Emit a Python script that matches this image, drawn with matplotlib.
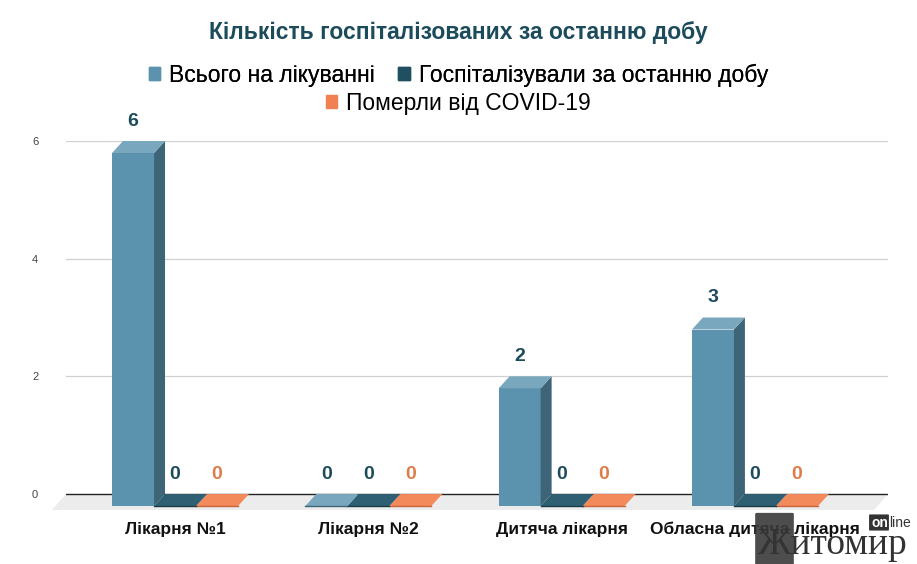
import numpy as np
import matplotlib.pyplot as plt
from matplotlib.patches import Patch, Polygon, FancyBboxPatch

plt.rcParams['font.family'] = ['Liberation Sans', 'DejaVu Sans']

categories = ['Лікарня №1', 'Лікарня №2', 'Дитяча лікарня', 'Обласна дитяча лікарня']
series_names = ['Всього на лікуванні', 'Госпіталізували за останню добу', 'Померли від COVID-19']
total = [6, 0, 2, 3]
hospitalized = [0, 0, 0, 0]
died = [0, 0, 0, 0]
y_ticks = [0, 2, 4, 6]

front_colors = ['#5b93ae', '#1f4f61', '#ef8152']
top_colors = ['#79a7bd', '#2f5f72', '#f38a5c']
side_colors = ['#3d6577', '#163a48', '#c8653c']
label_colors = ['#1c4b5c', '#1c4b5c', '#e07a48']

W = 42 / 193.3      # bar width (category units)
DX = 11 / 193.3     # depth offset in x
DY = 12 / 58.84     # depth offset in y

fig = plt.figure(figsize=(9.17, 5.64), dpi=100)
ax = fig.add_axes([66 / 917, (564 - 520.5) / 564, 822 / 917, 379.5 / 564])
ax.set_xlim(-0.564, -0.564 + 822 / 193.3)
ax.set_ylim(-0.45, 6)

# floor
x0, x1 = ax.get_xlim()
fdx, fdy = 14 / 193.3, 0.27
ax.add_patch(Polygon([(x0 - fdx, -fdy), (x1 - fdx, -fdy), (x1, 0), (x0, 0)],
                     fc='#ececec', ec='none', zorder=1, clip_on=False))

# grid
for t in y_ticks:
    if t == 0:
        ax.axhline(0, color='#222222', lw=1.0, zorder=2)
    else:
        ax.axhline(t, color='#d0d0d0', lw=0.9, zorder=0.5)

data = [total, hospitalized, died]
x = np.arange(len(categories))
z = 3
for i in range(len(categories)):
    for j in [2, 1, 0]:
        v = data[j][i]
        xc = x[i] + (j - 1) * W
        xl = xc - W / 2
        ax.bar(xc, v, width=W, bottom=-DY, color=front_colors[j], zorder=z)
        if v > 0:
            ax.fill([xl + W, xl + W + DX, xl + W + DX, xl + W],
                    [-DY, 0, v, v - DY], color=side_colors[j], lw=0, zorder=z + 0.1)
        ax.fill([xl, xl + W, xl + W + DX, xl + DX],
                [v - DY, v - DY, v, v], color=top_colors[j], lw=0, zorder=z + 0.2)
        if v == 0:
            ax.plot([xl, xl + W], [-DY, -DY], color=side_colors[j], lw=1, zorder=z + 0.3)
        ax.text(xc, v + 20 / 58.84, str(v), ha='center', va='center',
                fontsize=14, fontweight='bold', color=label_colors[j], zorder=10)
        z += 1

for s in ax.spines.values():
    s.set_visible(False)
ax.set_xticks(x)
ax.set_xticklabels(categories, fontsize=12.5, fontweight='bold', color='#111111')
ax.tick_params(axis='x', length=0, pad=1)
ax.set_yticks(y_ticks)
ax.set_yticklabels([str(t) for t in y_ticks], fontsize=8, color='#444444')
ax.tick_params(axis='y', length=0, pad=20)

fig.text(0.5, 1 - 33 / 564, 'Кількість госпіталізованих за останню добу',
         ha='center', va='center', fontsize=16.5, fontweight='bold', color='#1c4b5c')

handles = [Patch(color=c) for c in front_colors]
leg1 = fig.legend(handles[:2], series_names[:2], loc='center', bbox_to_anchor=(0.5, 1 - 75 / 564),
                  ncol=2, frameon=False, fontsize=16.5, handlelength=0.5, handleheight=0.5,
                  handletextpad=0.4, columnspacing=1.0)
fig.add_artist(leg1)
fig.legend(handles[2:], series_names[2:], loc='center', bbox_to_anchor=(0.5, 1 - 103 / 564),
           frameon=False, fontsize=16.5, handlelength=0.5, handleheight=0.5, handletextpad=0.4)

# watermark
fig.patches.append(FancyBboxPatch((757 / 917, 0), 35 / 917, 50 / 564,
                                  boxstyle='round,pad=0.002', transform=fig.transFigure,
                                  fc='#3a3a3a', ec='none', alpha=0.9))
fig.text(757 / 917, 10 / 564, 'Житомир', fontsize=27, family='Liberation Serif',
         color='#333333', ha='left', va='baseline')
fig.patches.append(FancyBboxPatch((870 / 917, 1 - 530 / 564), 18 / 917, 15 / 564,
                                  boxstyle='round,pad=0.001', transform=fig.transFigure,
                                  fc='#333333', ec='none'))
fig.text(871 / 917, 1 - 523 / 564, 'on', fontsize=10, fontweight='bold', color='white',
         ha='left', va='center')
fig.text(889 / 917, 1 - 523 / 564, 'line', fontsize=10, color='#333333', ha='left', va='center')

fig.savefig('out.png', dpi=100)
